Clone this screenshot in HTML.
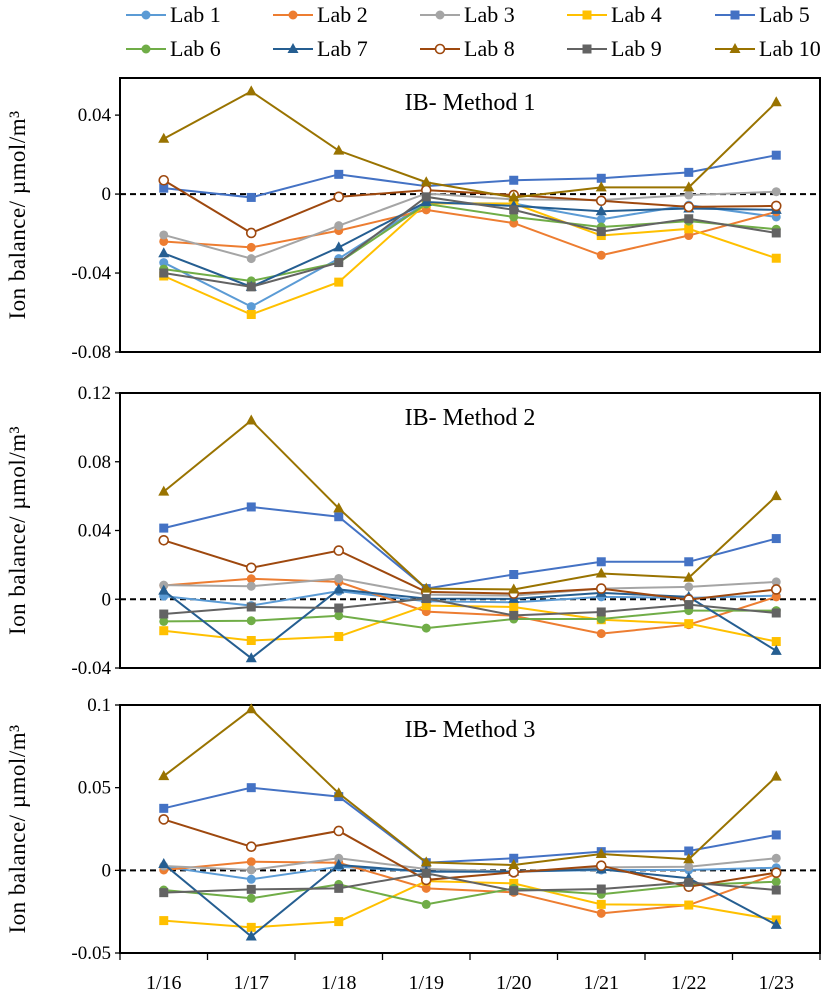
<!DOCTYPE html>
<html><head><meta charset="utf-8"><style>
body{margin:0;background:#fff;}
svg{display:block;font-family:"Liberation Serif",serif;}
</style></head><body>
<svg id="chart" width="832" height="992" viewBox="0 0 832 992"></svg>
<script>
const dates = ["1/16","1/17","1/18","1/19","1/20","1/21","1/22","1/23"];
const labs = ["Lab 1","Lab 2","Lab 3","Lab 4","Lab 5","Lab 6","Lab 7","Lab 8","Lab 9","Lab 10"];
const colors = ["#5B9BD5","#ED7D31","#A5A5A5","#FFC000","#4472C4","#70AD47","#255E91","#9E480E","#636363","#997300"];
const markers = ["circle","circle","circle","square","square","circle","triangle","open","square","triangle"];
const m1 = [
 [-0.0347,-0.057,-0.0327,-0.0045,-0.0048,-0.0128,-0.0056,-0.0116],
 [-0.024,-0.027,-0.0185,-0.008,-0.0147,-0.031,-0.021,-0.009],
 [-0.0207,-0.0327,-0.016,0.0003,-0.0027,-0.003,-0.0005,0.0012],
 [-0.0415,-0.061,-0.0446,-0.0048,-0.0048,-0.021,-0.0176,-0.0325],
 [0.003,-0.0017,0.010,0.004,0.007,0.008,0.011,0.0197],
 [-0.038,-0.044,-0.0347,-0.005,-0.0116,-0.0167,-0.0137,-0.0178],
 [-0.030,-0.047,-0.027,-0.004,-0.006,-0.0087,-0.0073,-0.008],
 [0.007,-0.0197,-0.0014,0.002,-0.0005,-0.0034,-0.0065,-0.006],
 [-0.040,-0.047,-0.0347,-0.0014,-0.008,-0.019,-0.0125,-0.0197],
 [0.028,0.052,0.022,0.006,-0.0017,0.0034,0.0034,0.0465]
];
const m2 = [
 [0.0018,-0.0037,0.0047,-0.0012,-0.0018,0.0014,0.0008,0.0021],
 [0.008,0.0119,0.0101,-0.0072,-0.0096,-0.020,-0.0148,0.0014],
 [0.0082,0.0076,0.0121,0.0027,0.0021,0.0062,0.0072,0.0101],
 [-0.0183,-0.024,-0.0217,-0.0037,-0.0045,-0.0119,-0.0142,-0.0246],
 [0.0414,0.0537,0.048,0.0062,0.0144,0.0218,0.0218,0.0353],
 [-0.0129,-0.0125,-0.0096,-0.0168,-0.0115,-0.0115,-0.0066,-0.0066],
 [0.005,-0.0343,0.0057,0.0004,0.0002,0.0037,0.0014,-0.030],
 [0.0343,0.0183,0.0283,0.0043,0.0033,0.0062,-0.0002,0.0057],
 [-0.0086,-0.0045,-0.0051,0.0004,-0.0094,-0.0074,-0.0031,-0.008],
 [0.0626,0.104,0.0529,0.0062,0.0057,0.015,0.0125,0.060]
];
const m3 = [
 [0.0022,-0.0054,0.0022,-0.0008,-0.0008,0.0002,0.0002,0.0016],
 [0.0002,0.0052,0.0046,-0.0109,-0.0133,-0.026,-0.021,-0.0022],
 [0.0026,0.0002,0.0073,0.0008,-0.0008,0.0018,0.0022,0.0073],
 [-0.0304,-0.0345,-0.031,-0.0065,-0.0079,-0.0206,-0.021,-0.030],
 [0.0375,0.05,0.0446,0.0046,0.0073,0.0113,0.0117,0.0214],
 [-0.0119,-0.0169,-0.0085,-0.0206,-0.0109,-0.0145,-0.0089,-0.0069],
 [0.0038,-0.040,0.0032,-0.0008,-0.0008,0.0006,-0.0048,-0.033],
 [0.0308,0.0143,0.0238,-0.0058,-0.0012,0.0028,-0.0099,-0.0014],
 [-0.0135,-0.0115,-0.0109,-0.0018,-0.0123,-0.0113,-0.0073,-0.0119],
 [0.057,0.0974,0.0466,0.0048,0.0032,0.0099,0.0067,0.0567]
];
const ticks1 = [0.04,0,-0.04,-0.08], tickLabels1 = ["0.04","0","-0.04","-0.08"];
const ticks2 = [0.12,0.08,0.04,0,-0.04], tickLabels2 = ["0.12","0.08","0.04","0","-0.04"];
const ticks3 = [0.1,0.05,0,-0.05], tickLabels3 = ["0.1","0.05","0","-0.05"];

const NS="http://www.w3.org/2000/svg";
const svg=document.getElementById('chart');
function mk(tag,attrs,parent){const e=document.createElementNS(NS,tag);for(const k in attrs)e.setAttribute(k,attrs[k]);(parent||svg).appendChild(e);return e;}
const L=120, R=820, step=(R-L)/dates.length;
const xS=i=>L+step*(i+0.5);

function marker(g,type,x,y,c){
  let e;
  if(type==="circle") e=mk('circle',{cx:x,cy:y,r:4.5,fill:c},g);
  else if(type==="open") e=mk('circle',{cx:x,cy:y,r:4.5,fill:'#fff',stroke:c,'stroke-width':1.6},g);
  else if(type==="square") e=mk('rect',{x:x-4.5,y:y-4.5,width:9,height:9,fill:c},g);
  else e=mk('polygon',{points:`${x},${y-6} ${x+5.5},${y+4} ${x-5.5},${y+4}`,fill:c},g);
  
  
}

function panel(n,top,bottom,vmax,vmin,data,ticks,tlabels,title,showX){
  const g=mk('g',{});
  
  
  const yS=v=>top+(vmax-v)/(vmax-vmin)*(bottom-top);
  const box=mk('rect',{x:L,y:top,width:R-L,height:bottom-top,fill:'none',stroke:'#000','stroke-width':2},g);
  
  
  ticks.forEach((t,i)=>{
    const y=yS(t);
    mk('line',{x1:L-5,x2:L,y1:y,y2:y,stroke:'#000','stroke-width':1.3},g);
    const tx=mk('text',{x:L-9,y:y+6,'text-anchor':'end','font-size':19},g);
    tx.textContent=tlabels[i];
    
    
  });
  const z=mk('line',{x1:L,x2:R,y1:yS(0),y2:yS(0),stroke:'#000','stroke-width':2,'stroke-dasharray':'6,4'},g);
  
  
  const tt=mk('text',{x:470,y:top+32,'text-anchor':'middle','font-size':24},g);
  tt.textContent=title;
  
  
  const yt=mk('text',{x:0,y:0,'text-anchor':'middle','font-size':23,'letter-spacing':0.5,transform:`translate(25,${(top+bottom)/2}) rotate(-90)`},g);
  yt.textContent='Ion balance/  \u00B5mol/m\u00B3';
  
  
  if(showX){
    for(let i=0;i<=dates.length;i++){const x=L+step*i;mk('line',{x1:x,x2:x,y1:bottom,y2:bottom+7,stroke:'#000','stroke-width':1.3},g);}
    dates.forEach((d,i)=>{const t=mk('text',{x:xS(i),y:bottom+36,'text-anchor':'middle','font-size':20},g);t.textContent=d;
      
      });
  }
  data.forEach((s,k)=>{
    const sg=mk('g',{},g);
    
    
    mk('polyline',{points:s.map((v,i)=>xS(i)+','+yS(v)).join(' '),fill:'none',stroke:colors[k],'stroke-width':2},sg);
    s.forEach((v,i)=>marker(sg,markers[k],xS(i),yS(v),colors[k]));
  });
}
panel(1,78,352,0.0588,-0.08,m1,ticks1,tickLabels1,'IB- Method 1',false);
panel(2,393,668,0.12,-0.04,m2,ticks2,tickLabels2,'IB- Method 2',false);
panel(3,705,953,0.1,-0.05,m3,ticks3,tickLabels3,'IB- Method 3',true);

const lg=mk('g',{});


const lx=[126,273,420,567,715];
labs.forEach((lab,k)=>{
  const x=lx[k%5], y=k<5?15:49;
  const eg=mk('g',{},lg);
  
  
  mk('line',{x1:x,x2:x+40,y1:y,y2:y,stroke:colors[k],'stroke-width':2},eg);
  marker(eg,markers[k],x+20,y,colors[k]);
  const t=mk('text',{x:x+44,y:y+7,'font-size':22},eg);
  t.textContent=lab;
});
</script>
</body></html>
